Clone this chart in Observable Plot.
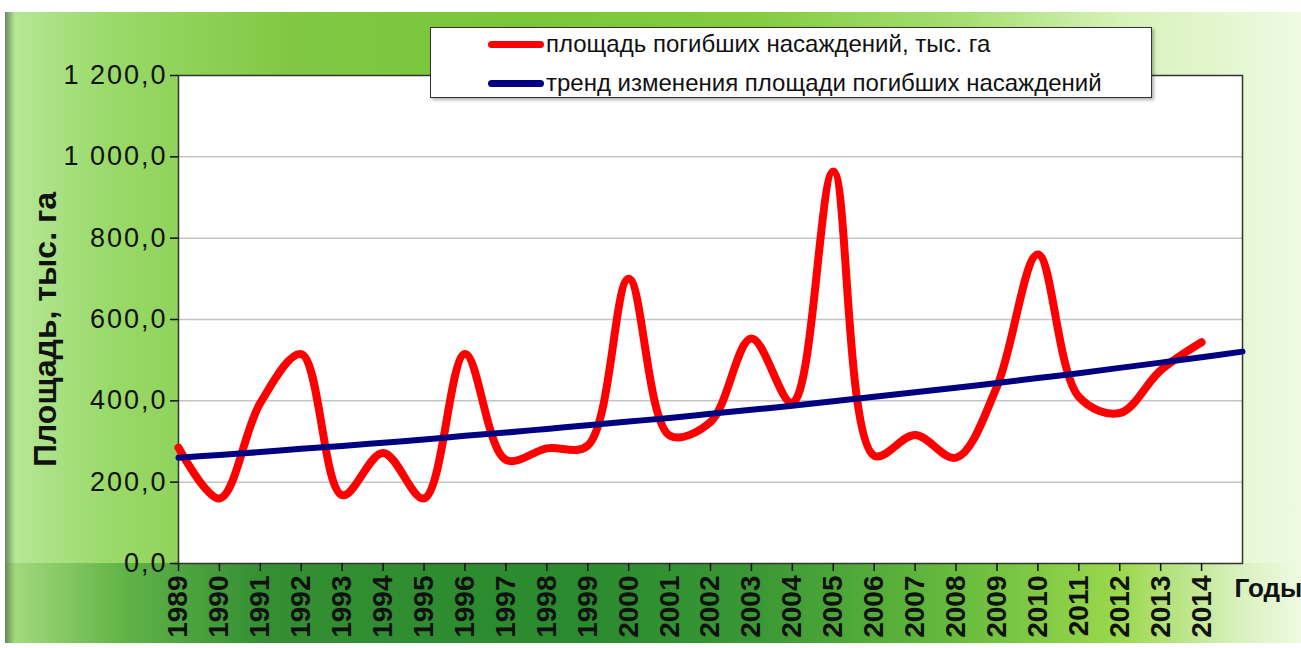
<!DOCTYPE html>
<html><head><meta charset="utf-8">
<script src="https://cdn.jsdelivr.net/npm/d3@7"></script>
<script src="https://cdn.jsdelivr.net/npm/@observablehq/plot@0.6"></script>
<style>
body{margin:0;background:#fff;font-family:Arial,"Liberation Sans",sans-serif;}
#wrap{position:relative;width:1301px;height:648px;overflow:hidden;background:#fff;}
.bg{position:absolute;}
#panel{left:5px;top:12px;width:1296px;height:631px;
 background:linear-gradient(to right,#b8e89a 0%,#9ada6a 8%,#80c844 22%,#7ac63a 40%,#84cc42 58%,#a6de72 74%,#d6f2b8 86%,#eefae2 100%);}
#strip{left:5px;top:563px;width:1296px;height:80px;
 background:linear-gradient(to right,#a8dc80 0%,#62b448 9%,#348f32 20%,#2a8a2e 45%,#3a9834 58%,#62b83c 72%,#9ad84c 86%,#d8f0bc 95%,#eefae2 100%);}
#shade{left:5px;top:12px;width:10px;height:631px;background:linear-gradient(to right,rgba(70,100,70,0.7),rgba(70,100,70,0));}
#chart{position:absolute;left:0;top:0;}
#chart g[aria-label="y-axis tick label"] text{letter-spacing:2px;}
#legend{position:absolute;left:430px;top:27px;width:720px;height:69px;background:#fff;border:1.5px solid #333;box-shadow:2px 2px 3px rgba(0,0,0,0.3);}
#legend .row{position:absolute;left:57px;display:flex;align-items:center;height:30px;font-size:24px;color:#111;white-space:nowrap;}
#legend .sw{display:inline-block;width:56px;height:7px;border-radius:4px;margin-right:2px;}
</style></head><body>
<div id="wrap">
 <div class="bg" id="panel"></div>
 <div class="bg" id="strip"></div>
 <div class="bg" id="shade"></div>
 <div id="chart"></div>
 <div id="legend"></div>
</div>
<script>
const years = [1989,1990,1991,1992,1993,1994,1995,1996,1997,1998,1999,2000,2001,2002,2003,2004,2005,2006,2007,2008,2009,2010,2011,2012,2013,2014];
const area = [285,160,395,515,168,272,160,515,255,283,290,700,315,348,553,395,964,265,316,260,435,760,410,370,475,544];
const trendYears = [1989,1990,1991,1992,1993,1994,1995,1996,1997,1998,1999,2000,2001,2002,2003,2004,2005,2006,2007,2008,2009,2010,2011,2012,2013,2014,2015];
const trendValues = [260,267,274,282,289,297,305,314,322,331,340,349,358,368,378,388,399,410,421,432,444,456,468,481,494,507,521];
const yTicks = [0,200,400,600,800,1000,1200];
const seriesNames = ["площадь погибших насаждений, тыс. га","тренд изменения площади погибших насаждений"];
const seriesColors = ["#ff0000","#000080"];
const yTitle = "Площадь, тыс. га";
const xTitle = "Годы";

const fmt = v => d3.format(",.1f")(v).replace(/,/g," ").replace(".",",");
const areaData = years.map((y,i)=>({year:y, v:area[i]}));
const trendData = trendYears.map((y,i)=>({year:y, v:trendValues[i]}));

const chart = Plot.plot({
  width:1301, height:648,
  marginLeft:178, marginRight:59, marginTop:75, marginBottom:85,
  style:{background:"transparent", fontFamily:"Arial, 'Liberation Sans', sans-serif", color:"#111", overflow:"visible"},
  x:{domain:[1989,2015], axis:null},
  y:{domain:[0,1200], axis:null},
  marks:[
    Plot.frame({fill:"white", stroke:"none"}),
    Plot.gridY(yTicks.slice(1,-1), {stroke:"#c4c4c4", strokeOpacity:1, strokeWidth:1.5}),
    Plot.frame({stroke:"#333", strokeWidth:1.5}),
    Plot.axisY(yTicks, {anchor:"left", tickSize:8, tickPadding:3, tickFormat:fmt, fontSize:27, label:null, strokeWidth:1.5}),
    Plot.axisX(years, {anchor:"bottom", tickSize:8, tickPadding:4, tickRotate:-90, tickFormat:d=>String(d), fontSize:28, fontWeight:"bold", label:null, strokeWidth:1.5}),
    Plot.line(areaData, {x:"year", y:"v", stroke:seriesColors[0], strokeWidth:8, curve:"catmull-rom"}),
    Plot.line(trendData, {x:"year", y:"v", stroke:seriesColors[1], strokeWidth:6, curve:"catmull-rom"}),
    Plot.text([yTitle], {frameAnchor:"left", textAnchor:"middle", rotate:-90, dx:-133, dy:10, fontSize:32, fontWeight:"bold", fill:"#111"}),
    Plot.text([xTitle], {frameAnchor:"bottom-right", textAnchor:"start", dx:-8, dy:33, fontSize:26, fontWeight:"bold", fill:"#111"})
  ]
});
document.getElementById("chart").appendChild(chart);

const legend = document.getElementById("legend");
seriesNames.forEach((name,i)=>{
  const row = document.createElement("div");
  row.className = "row";
  row.style.top = (i===0 ? 1 : 40) + "px";
  const sw = document.createElement("span");
  sw.className = "sw";
  sw.style.background = seriesColors[i];
  const t = document.createElement("span");
  t.textContent = name;
  row.appendChild(sw); row.appendChild(t);
  legend.appendChild(row);
});
</script>
</body></html>
